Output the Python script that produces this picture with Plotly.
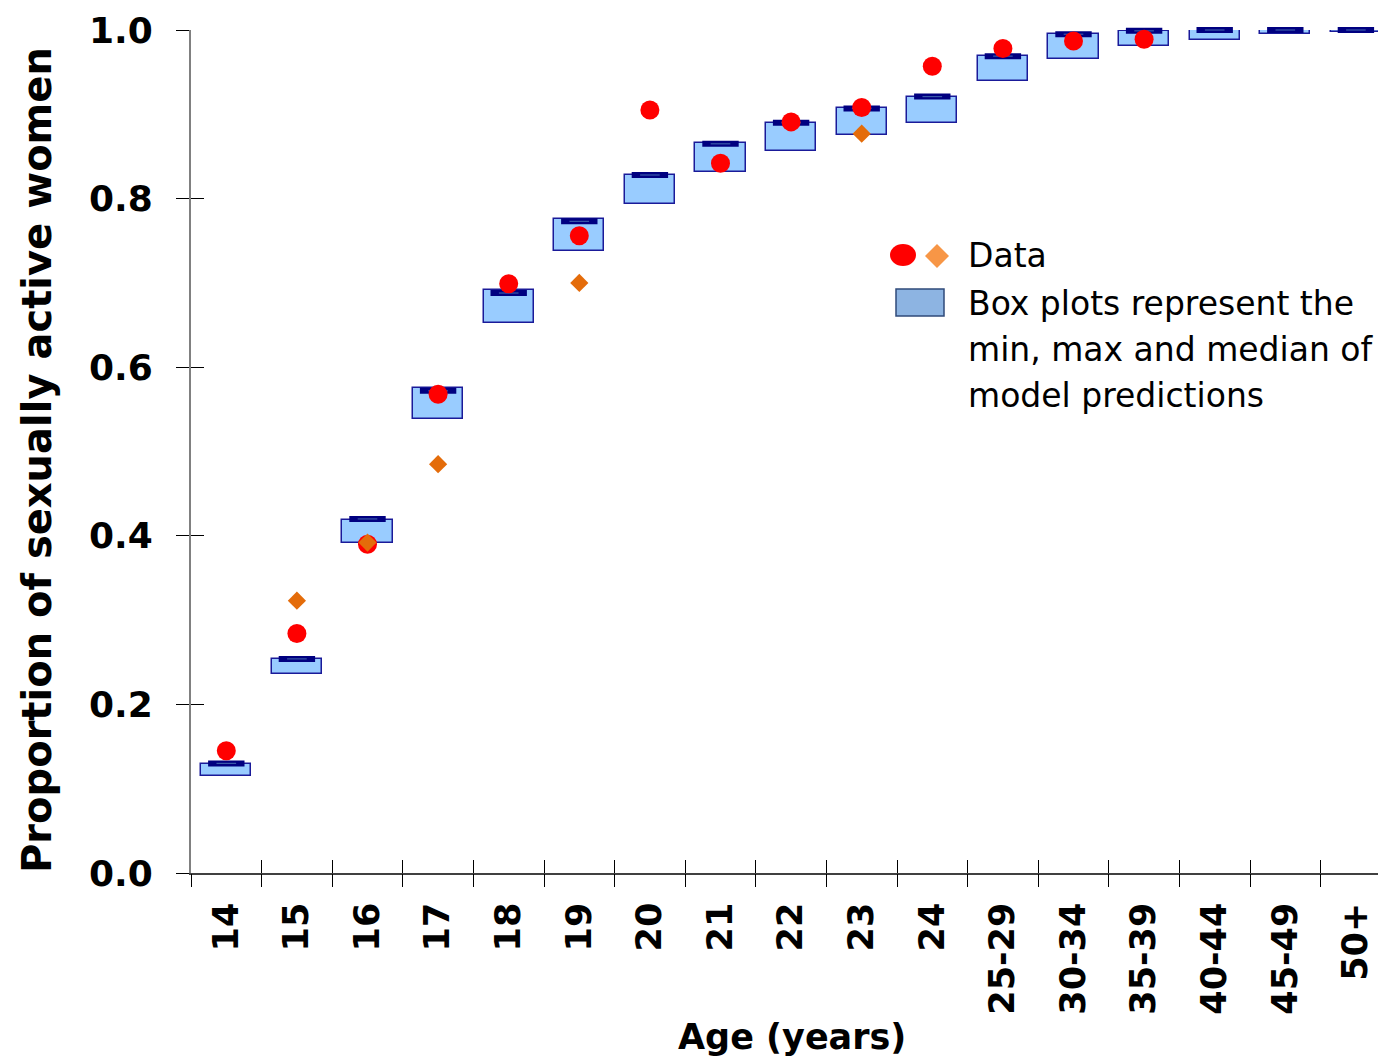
import plotly.graph_objects as go

# ---------------- data ----------------
age_groups = ["14", "15", "16", "17", "18", "19", "20", "21", "22", "23", "24",
              "25-29", "30-34", "35-39", "40-44", "45-49", "50+"]
model_min = [0.115, 0.236, 0.392, 0.538, 0.652, 0.738, 0.794, 0.831, 0.856, 0.875,
             0.890, 0.939, 0.966, 0.981, 0.988, 0.995, 0.998]
model_max = [0.129, 0.254, 0.419, 0.575, 0.692, 0.776, 0.828, 0.866, 0.890, 0.907,
             0.921, 0.969, 0.995, 0.999, 1.000, 1.000, 1.000]
model_median = [0.130, 0.254, 0.420, 0.572, 0.688, 0.773, 0.828, 0.865, 0.890, 0.907,
                0.921, 0.969, 0.995, 0.999, 1.000, 1.000, 1.000]
data_circle = [0.145, 0.284, 0.390, 0.568, 0.699, 0.756, 0.905, 0.842, 0.891, 0.908,
               0.957, 0.978, 0.987, 0.989, None, None, None]
data_diamond = [None, 0.323, 0.392, 0.485, None, 0.700, None, None, None, 0.877,
                None, None, None, None, None, None, None]
y_ticks = [0.0, 0.2, 0.4, 0.6, 0.8, 1.0]

# ---------------- geometry helpers ----------------
OFF = 8  # page body margin
W, H = 1386 - OFF, 1060 - OFF
ML, MR, MT, MB = 191 - OFF, 0, 30 - OFF, 187
PW, PH = W - ML - MR, H - MT - MB
CAT_PX = 70.6
x_idx = list(range(len(age_groups)))
x_range = [-0.5, -0.5 + PW / CAT_PX]


def px_x(p):  # page pixel -> paper coordinate
    return (p - OFF - ML) / PW


def px_y(p):
    return (H - MB - (p - OFF)) / PH


FONT = "DejaVu Sans"
NAVY = "#000080"

fig = go.Figure()

# boxes (min..max)
fig.add_trace(go.Bar(
    x=x_idx,
    y=[mx - mn for mn, mx in zip(model_min, model_max)],
    base=model_min,
    width=0.71,
    marker=dict(color="#99CCFF", line=dict(color="#1a1a99", width=1.5)),
    cliponaxis=False,
    showlegend=False,
    hoverinfo="skip",
))

# median bars
fig.add_trace(go.Scatter(
    x=x_idx, y=model_median, mode="markers",
    marker=dict(symbol="line-ew", size=26, line=dict(color=NAVY, width=6)),
    cliponaxis=False, showlegend=False,
))
fig.add_trace(go.Scatter(
    x=x_idx, y=model_median, mode="markers",
    marker=dict(symbol="line-ew", size=14, line=dict(color="#3a5aa8", width=1.2)),
    cliponaxis=False, showlegend=False,
))

# data: red circles
fig.add_trace(go.Scatter(
    x=x_idx, y=data_circle, mode="markers",
    marker=dict(symbol="circle", size=19, color="#FF0000", line=dict(width=0)),
    cliponaxis=False, showlegend=False,
))
# data: orange diamonds
fig.add_trace(go.Scatter(
    x=x_idx, y=data_diamond, mode="markers",
    marker=dict(symbol="diamond", size=14, color="#E46C0A", line=dict(width=0)),
    cliponaxis=False, showlegend=False,
))

# invisible traces to instantiate the overlay axes used for crossing ticks
fig.add_trace(go.Scatter(x=[0], y=[0], xaxis="x2", yaxis="y2", mode="markers",
                         marker=dict(opacity=0), showlegend=False, hoverinfo="skip"))
fig.add_trace(go.Scatter(x=[0], y=[0], xaxis="x3", yaxis="y3", mode="markers",
                         marker=dict(opacity=0), showlegend=False, hoverinfo="skip"))

tick_font = dict(family=FONT, size=35, color="black", weight="bold")

fig.update_layout(
    width=W, height=H,
    margin=dict(l=ML, r=MR, t=MT, b=MB),
    paper_bgcolor="white", plot_bgcolor="white",
    bargap=0,
    xaxis=dict(
        range=x_range, tickmode="array", tickvals=x_idx, ticktext=age_groups,
        tickangle=-90, tickfont=tick_font, ticks="", ticklabelstandoff=14,
        showgrid=False, zeroline=False, showline=True, linecolor="#404040", linewidth=1.5,
        anchor="y",
    ),
    yaxis=dict(
        range=[0, 1], tickmode="array", tickvals=y_ticks,
        ticktext=[f"{v:.1f}" for v in y_ticks],
        tickfont=dict(family=FONT, size=36, color="black", weight="bold"),
        ticks="outside", ticklen=13, tickcolor="black", tickwidth=1,
        ticklabelstandoff=16,
        showgrid=False, zeroline=False, showline=True, linecolor="#808080", linewidth=2,
        anchor="x",
    ),
    # inside part of the crossing ticks
    xaxis2=dict(range=x_range, overlaying="x", anchor="y", tickmode="linear", tick0=-0.5, dtick=1,
                ticks="inside", ticklen=13, tickcolor="black", tickwidth=1,
                showticklabels=False, showgrid=False, zeroline=False, showline=False),
    yaxis2=dict(range=[0, 1], overlaying="y", anchor="x", side="left", tickmode="array",
                tickvals=y_ticks, ticks="inside", ticklen=13, tickcolor="black", tickwidth=1,
                showticklabels=False, showgrid=False, zeroline=False, showline=False),
    # outside part of the category boundary ticks
    xaxis3=dict(range=x_range, overlaying="x", anchor="y", tickmode="linear", tick0=-0.5, dtick=1,
                ticks="outside", ticklen=13, tickcolor="black", tickwidth=1,
                showticklabels=False, showgrid=False, zeroline=False, showline=False),
    yaxis3=dict(range=[0, 1], overlaying="y", anchor="x", showticklabels=False,
                showgrid=False, zeroline=False, showline=False, ticks=""),
)

# axis titles
fig.add_annotation(text="<b>Proportion of sexually active women</b>", xref="paper", yref="paper",
                   x=px_x(37), y=px_y(460), textangle=-90, showarrow=False,
                   font=dict(family=FONT, size=40, color="black"),
                   xanchor="center", yanchor="middle")
fig.add_annotation(text="<b>Age (years)</b>", xref="paper", yref="paper",
                   x=px_x(792), y=px_y(1037), showarrow=False,
                   font=dict(family=FONT, size=35, color="black"),
                   xanchor="center", yanchor="middle")

# custom legend
leg_font = dict(family=FONT, size=33, color="black")
fig.add_shape(type="circle", xref="paper", yref="paper",
              x0=px_x(890), x1=px_x(916), y0=px_y(266), y1=px_y(244),
              fillcolor="#FF0000", line=dict(width=0))
cx, cy, r = 937, 256, 12
fig.add_shape(type="path", xref="paper", yref="paper",
              path=(f"M {px_x(cx - r)} {px_y(cy)} L {px_x(cx)} {px_y(cy - r)} "
                    f"L {px_x(cx + r)} {px_y(cy)} L {px_x(cx)} {px_y(cy + r)} Z"),
              fillcolor="#F79646", line=dict(width=0))
fig.add_shape(type="rect", xref="paper", yref="paper",
              x0=px_x(896), x1=px_x(944), y0=px_y(316), y1=px_y(289),
              fillcolor="#8DB4E2", line=dict(color="#2F4A7A", width=1.5))
for txt, ypx in [("Data", 255), ("Box plots represent the", 304),
                 ("min, max and median of", 349), ("model predictions", 395)]:
    fig.add_annotation(text=txt, xref="paper", yref="paper", x=px_x(966), y=px_y(ypx),
                       showarrow=False, xanchor="left", yanchor="middle", font=leg_font)

fig.write_html("out.html")
